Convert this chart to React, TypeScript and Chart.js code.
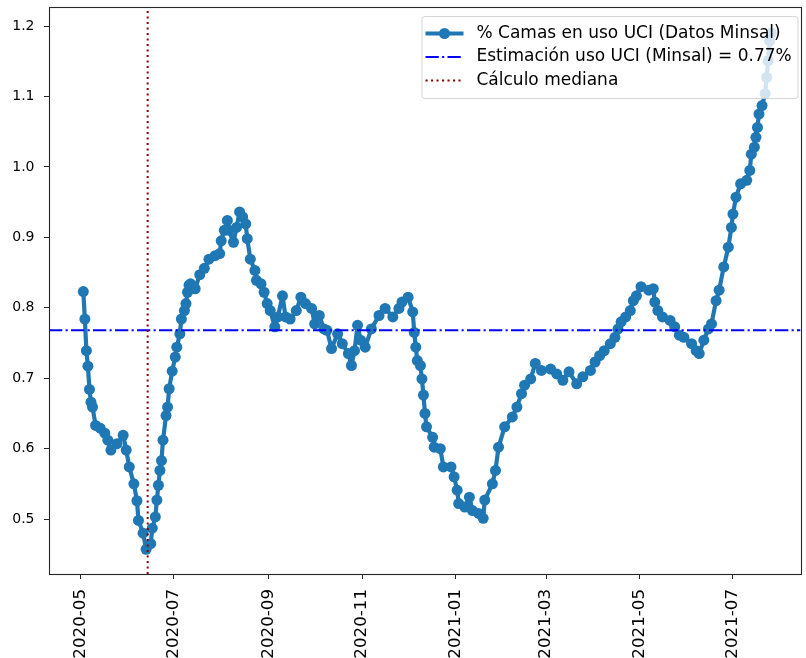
import React, { useEffect, useRef } from "react";
import { Chart, registerables } from "chart.js";

Chart.register(...registerables);

// ---------------- data ----------------
const dates: string[] = [
  "2020-05-03", "2020-05-04", "2020-05-05", "2020-05-06", "2020-05-07", "2020-05-08", "2020-05-09", "2020-05-11",
  "2020-05-14", "2020-05-17", "2020-05-19", "2020-05-21", "2020-05-25", "2020-05-29", "2020-05-31", "2020-06-02",
  "2020-06-05", "2020-06-07", "2020-06-08", "2020-06-11", "2020-06-13", "2020-06-16", "2020-06-17", "2020-06-19",
  "2020-06-20", "2020-06-21", "2020-06-22", "2020-06-23", "2020-06-24", "2020-06-26", "2020-06-27", "2020-06-28",
  "2020-06-30", "2020-07-02", "2020-07-03", "2020-07-05", "2020-07-06", "2020-07-08", "2020-07-09", "2020-07-10",
  "2020-07-11", "2020-07-12", "2020-07-15", "2020-07-18", "2020-07-21", "2020-07-24", "2020-07-28", "2020-07-31",
  "2020-08-01", "2020-08-03", "2020-08-05", "2020-08-06", "2020-08-09", "2020-08-11", "2020-08-13", "2020-08-15",
  "2020-08-17", "2020-08-18", "2020-08-20", "2020-08-23", "2020-08-24", "2020-08-27", "2020-08-29", "2020-08-31",
  "2020-09-02", "2020-09-05", "2020-09-07", "2020-09-10", "2020-09-12", "2020-09-15", "2020-09-19", "2020-09-22",
  "2020-09-25", "2020-09-29", "2020-10-01", "2020-10-04", "2020-10-07", "2020-10-09", "2020-10-12", "2020-10-16",
  "2020-10-19", "2020-10-23", "2020-10-25", "2020-10-27", "2020-10-29", "2020-10-31", "2020-11-03", "2020-11-07",
  "2020-11-12", "2020-11-16", "2020-11-21", "2020-11-25", "2020-11-27", "2020-12-01", "2020-12-04", "2020-12-05",
  "2020-12-06", "2020-12-07", "2020-12-09", "2020-12-10", "2020-12-11", "2020-12-12", "2020-12-13", "2020-12-17",
  "2020-12-18", "2020-12-22", "2020-12-24", "2020-12-29", "2020-12-31", "2021-01-02", "2021-01-03", "2021-01-07",
  "2021-01-10", "2021-01-12", "2021-01-16", "2021-01-19", "2021-01-20", "2021-01-25", "2021-01-27", "2021-01-29",
  "2021-02-02", "2021-02-07", "2021-02-10", "2021-02-13", "2021-02-15", "2021-02-19", "2021-02-22", "2021-02-26",
  "2021-03-04", "2021-03-08", "2021-03-12", "2021-03-16", "2021-03-21", "2021-03-25", "2021-03-30", "2021-04-02",
  "2021-04-05", "2021-04-08", "2021-04-12", "2021-04-15", "2021-04-17", "2021-04-19", "2021-04-22", "2021-04-25",
  "2021-04-27", "2021-04-29", "2021-05-02", "2021-05-07", "2021-05-10", "2021-05-11", "2021-05-13", "2021-05-16",
  "2021-05-21", "2021-05-24", "2021-05-27", "2021-05-30", "2021-06-04", "2021-06-07", "2021-06-09", "2021-06-12",
  "2021-06-15", "2021-06-17", "2021-06-20", "2021-06-22", "2021-06-25", "2021-06-28", "2021-06-30", "2021-07-01",
  "2021-07-03", "2021-07-06", "2021-07-10", "2021-07-12", "2021-07-13", "2021-07-15", "2021-07-16", "2021-07-17",
  "2021-07-18", "2021-07-20", "2021-07-22", "2021-07-23", "2021-07-24", "2021-07-25", "2021-07-26",
];

const values: number[] = [
  0.823, 0.784, 0.739, 0.717, 0.684, 0.666, 0.659, 0.633,
  0.629, 0.622, 0.612, 0.598, 0.607, 0.619, 0.598, 0.574,
  0.550, 0.526, 0.498, 0.480, 0.457, 0.465, 0.487, 0.503,
  0.527, 0.548, 0.569, 0.583, 0.612, 0.647, 0.659, 0.685,
  0.710, 0.730, 0.744, 0.763, 0.784, 0.796, 0.806, 0.822,
  0.832, 0.834, 0.827, 0.847, 0.856, 0.869, 0.874, 0.877,
  0.895, 0.910, 0.924, 0.910, 0.893, 0.914, 0.936, 0.929,
  0.919, 0.898, 0.869, 0.853, 0.839, 0.834, 0.822, 0.806,
  0.796, 0.773, 0.787, 0.817, 0.787, 0.784, 0.796, 0.815,
  0.806, 0.799, 0.777, 0.789, 0.770, 0.768, 0.742, 0.763,
  0.749, 0.735, 0.718, 0.739, 0.775, 0.754, 0.744, 0.770,
  0.789, 0.799, 0.787, 0.799, 0.808, 0.815, 0.794, 0.765,
  0.744, 0.725, 0.718, 0.699, 0.676, 0.650, 0.631, 0.616,
  0.602, 0.600, 0.574, 0.574, 0.560, 0.541, 0.522, 0.517,
  0.531, 0.512, 0.508, 0.501, 0.527, 0.550, 0.569, 0.602,
  0.631, 0.645, 0.659, 0.678, 0.690, 0.699, 0.721, 0.711,
  0.713, 0.706, 0.697, 0.709, 0.692, 0.702, 0.711, 0.723,
  0.732, 0.739, 0.749, 0.758, 0.770, 0.780, 0.787, 0.796,
  0.810, 0.817, 0.830, 0.825, 0.827, 0.808, 0.796, 0.787,
  0.782, 0.773, 0.761, 0.758, 0.749, 0.739, 0.735, 0.754,
  0.770, 0.777, 0.810, 0.825, 0.858, 0.886, 0.914, 0.933,
  0.957, 0.976, 0.981, 0.995, 1.018, 1.028, 1.042, 1.056,
  1.075, 1.087, 1.104, 1.127, 1.151, 1.179, 1.190,
];

const xTickLabels: string[] = ["2020-05", "2020-07", "2020-09", "2020-11", "2021-01", "2021-03", "2021-05", "2021-07"];
const yTickValues: number[] = [0.5, 0.6, 0.7, 0.8, 0.9, 1.0, 1.1, 1.2];

const estimateValue = 0.768;
const medianDate = "2020-06-14";

const seriesLabel = "% Camas en uso UCI (Datos Minsal)";
const estimateLabel = "Estimación uso UCI (Minsal) = 0.77%";
const medianLabel = "Cálculo mediana";

// ---------------- helpers ----------------
const DAY = 86400000;
const toDay = (s: string) => {
  const [y, m, d] = s.split("-").map(Number);
  return Date.UTC(y, m - 1, d) / DAY;
};
const fmtMonth = (v: number) => {
  const dt = new Date(Math.round(v) * DAY);
  return `${dt.getUTCFullYear()}-${String(dt.getUTCMonth() + 1).padStart(2, "0")}`;
};

const X_MIN = toDay("2020-05-01") - 20.4;
const X_MAX = toDay("2020-05-01") + 470.1;
const Y_MIN = 0.422;
const Y_MAX = 1.227;

const BLUE = "#1f77b4";
const FONT = "'DejaVu Sans', sans-serif";

const framePlugin = {
  id: "mplFrame",
  afterDatasetsDraw(chart: any) {
    const { ctx, chartArea: a } = chart;
    ctx.save();
    ctx.strokeStyle = "#262626";
    ctx.lineWidth = 1.1;
    ctx.strokeRect(Math.floor(a.left) + 0.5, Math.floor(a.top) + 0.5, Math.round(a.right - a.left), Math.round(a.bottom - a.top));
    ctx.restore();
  },
};

const legendPlugin = {
  id: "mplLegend",
  afterDraw(chart: any) {
    const { ctx, chartArea: a } = chart;
    const right = a.right - 3;
    const top = a.top + 9;
    const w = 376;
    const h = 82;
    const left = right - w;
    ctx.save();
    ctx.beginPath();
    if ((ctx as any).roundRect) (ctx as any).roundRect(left + 0.5, top + 0.5, w, h, 3);
    else ctx.rect(left + 0.5, top + 0.5, w, h);
    ctx.fillStyle = "rgba(255,255,255,0.8)";
    ctx.fill();
    ctx.strokeStyle = "rgba(204,204,204,0.8)";
    ctx.lineWidth = 1;
    ctx.stroke();

    const hx0 = left + 4;
    const hx1 = left + 42;
    const tx = left + 55;
    const rows = [top + 17.5, top + 41, top + 64.5];

    // series handle
    ctx.setLineDash([]);
    ctx.strokeStyle = BLUE;
    ctx.lineWidth = 4.2;
    ctx.beginPath();
    ctx.moveTo(hx0, rows[0]);
    ctx.lineTo(hx1, rows[0]);
    ctx.stroke();
    ctx.fillStyle = BLUE;
    ctx.beginPath();
    ctx.arc((hx0 + hx1) / 2, rows[0], 5.5, 0, Math.PI * 2);
    ctx.fill();

    // estimate handle
    ctx.strokeStyle = "blue";
    ctx.lineWidth = 2;
    ctx.setLineDash([13.3, 3.3, 2.1, 3.3]);
    ctx.beginPath();
    ctx.moveTo(hx0, rows[1]);
    ctx.lineTo(hx1, rows[1]);
    ctx.stroke();

    // median handle
    ctx.strokeStyle = "#8b0000";
    ctx.lineWidth = 2;
    ctx.setLineDash([2.1, 3.4]);
    ctx.beginPath();
    ctx.moveTo(hx0, rows[2]);
    ctx.lineTo(hx1, rows[2]);
    ctx.stroke();
    ctx.setLineDash([]);

    ctx.fillStyle = "#000";
    ctx.font = `17px ${FONT}`;
    ctx.textBaseline = "middle";
    ctx.textAlign = "left";
    ctx.fillText(seriesLabel, tx, rows[0]);
    ctx.fillText(estimateLabel, tx, rows[1]);
    ctx.fillText(medianLabel, tx, rows[2]);
    ctx.restore();
  },
};

export default function App() {
  const ref = useRef<HTMLCanvasElement | null>(null);

  useEffect(() => {
    if (!ref.current) return;
    const seriesData = dates.map((d, i) => ({ x: toDay(d), y: values[i] }));
    const med = toDay(medianDate);
    const chart = new Chart(ref.current, {
      type: "line",
      data: {
        datasets: [
          {
            label: seriesLabel,
            data: seriesData,
            borderColor: BLUE,
            backgroundColor: BLUE,
            borderWidth: 4.2,
            borderJoinStyle: "round",
            borderCapStyle: "round",
            pointRadius: 5.5,
            pointBorderWidth: 0,
            pointBackgroundColor: BLUE,
            tension: 0,
            fill: false,
            order: 3,
          },
          {
            label: estimateLabel,
            data: [
              { x: X_MIN, y: estimateValue },
              { x: X_MAX, y: estimateValue },
            ],
            borderColor: "blue",
            borderWidth: 2,
            borderDash: [13.3, 3.3, 2.1, 3.3],
            pointRadius: 0,
            fill: false,
            order: 2,
          },
          {
            label: medianLabel,
            data: [
              { x: med, y: Y_MIN },
              { x: med, y: Y_MAX },
            ],
            borderColor: "#8b0000",
            borderWidth: 2,
            borderDash: [2.1, 3.4],
            pointRadius: 0,
            fill: false,
            order: 1,
          },
        ],
      },
      options: {
        animation: false,
        responsive: false,
        devicePixelRatio: 1,
        layout: { padding: { top: 7, right: 3, left: 0, bottom: 0 } },
        plugins: {
          legend: { display: false },
          tooltip: { enabled: false },
          title: { display: false },
        },
        scales: {
          x: {
            type: "linear",
            min: X_MIN,
            max: X_MAX,
            afterBuildTicks: (scale: any) => {
              scale.ticks = xTickLabels.map((l) => ({ value: toDay(l + "-01") }));
            },
            afterFit: (scale: any) => {
              scale.height = 84;
              scale.paddingLeft = 0;
              scale.paddingRight = 0;
              scale.paddingTop = 0;
              scale.paddingBottom = 0;
            },
            grid: {
              display: true,
              drawOnChartArea: false,
              drawTicks: true,
              tickLength: 5,
              tickWidth: 1,
              tickColor: "#262626",
            },
            border: { display: false },
            ticks: {
              autoSkip: false,
              minRotation: 90,
              maxRotation: 90,
              padding: 10,
              color: "#000",
              font: { family: FONT, size: 16.7 },
              callback: (v: any) => fmtMonth(Number(v)),
            },
          },
          y: {
            type: "linear",
            min: Y_MIN,
            max: Y_MAX,
            afterBuildTicks: (scale: any) => {
              scale.ticks = yTickValues.map((v) => ({ value: v }));
            },
            afterFit: (scale: any) => {
              scale.width = 49;
              scale.paddingLeft = 0;
              scale.paddingRight = 0;
              scale.paddingTop = 0;
              scale.paddingBottom = 0;
            },
            grid: {
              display: true,
              drawOnChartArea: false,
              drawTicks: true,
              tickLength: 5,
              tickWidth: 1,
              tickColor: "#262626",
            },
            border: { display: false },
            ticks: {
              padding: 9.5,
              color: "#000",
              font: { family: FONT, size: 14 },
              callback: (v: any) => Number(v).toFixed(1),
            },
          },
        },
      },
      plugins: [framePlugin, legendPlugin],
    } as any);
    return () => chart.destroy();
  }, []);

  return (
    <div style={{ position: "absolute", left: 0, top: 0, width: 806, height: 658, background: "#fff" }}>
      <canvas ref={ref} width={806} height={658} style={{ width: 806, height: 658, display: "block" }} />
    </div>
  );
}
